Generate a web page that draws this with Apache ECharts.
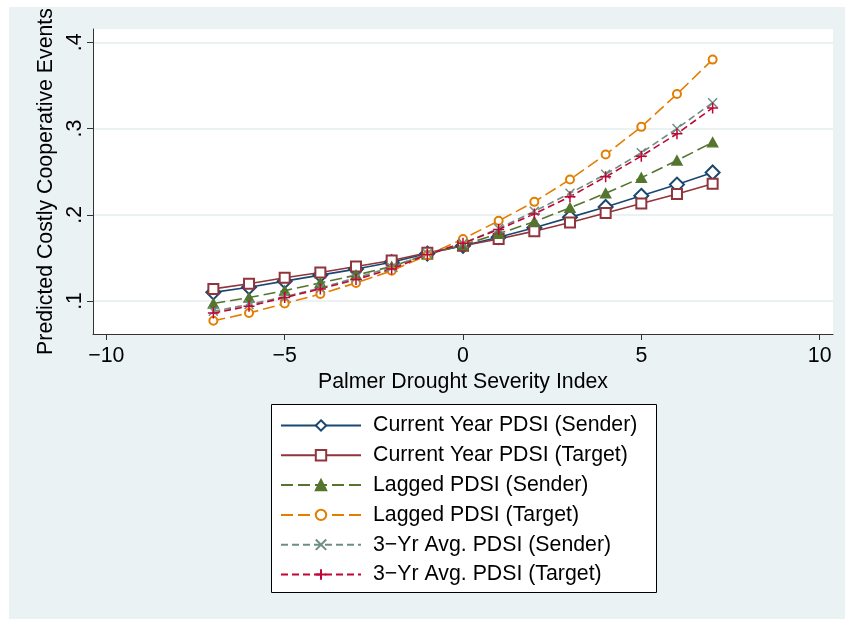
<!DOCTYPE html>
<html>
<head>
<meta charset="utf-8">
<script src="https://cdn.jsdelivr.net/npm/echarts@6/dist/echarts.min.js"></script>
<style>
  html, body { margin: 0; padding: 0; background: #ffffff; }
  #frame { position: absolute; left: 9px; top: 7px; width: 836px; height: 612px; background: #eaf2f3; }
  #chart { position: absolute; left: 0; top: 0; width: 845px; height: 619px; }
</style>
</head>
<body>
<div id="frame"></div>
<div id="chart"></div>
<script>
// Palmer Drought Severity Index values at which predictions are evaluated
const pdsi = [-7, -6, -5, -4, -3, -2, -1, 0, 1, 2, 3, 4, 5, 6, 7];

// Predicted costly cooperative events for each PDSI measure
const currentSender = [0.110, 0.116, 0.123, 0.130, 0.137, 0.145, 0.155, 0.164, 0.174, 0.185, 0.197, 0.209, 0.222, 0.235, 0.249];
const currentTarget = [0.114, 0.120, 0.127, 0.133, 0.140, 0.147, 0.156, 0.164, 0.172, 0.181, 0.191, 0.202, 0.213, 0.224, 0.236];
const laggedSender  = [0.097, 0.104, 0.112, 0.121, 0.130, 0.140, 0.154, 0.165, 0.178, 0.192, 0.208, 0.225, 0.243, 0.263, 0.284];
const laggedTarget  = [0.077, 0.086, 0.097, 0.108, 0.121, 0.135, 0.153, 0.172, 0.193, 0.215, 0.241, 0.270, 0.302, 0.340, 0.380];
const avgSender     = [0.088, 0.096, 0.105, 0.115, 0.127, 0.139, 0.155, 0.167, 0.184, 0.204, 0.225, 0.247, 0.272, 0.300, 0.330];
const avgTarget     = [0.086, 0.094, 0.104, 0.114, 0.125, 0.137, 0.154, 0.167, 0.183, 0.201, 0.221, 0.244, 0.268, 0.294, 0.324];

// Axis ticks
const xTicks = [-10, -5, 0, 5, 10];
const yTicks = [0.1, 0.2, 0.3, 0.4];

const seriesNames = [
  'Current Year PDSI (Sender)',
  'Current Year PDSI (Target)',
  'Lagged PDSI (Sender)',
  'Lagged PDSI (Target)',
  '3\u2212Yr Avg. PDSI (Sender)',
  '3\u2212Yr Avg. PDSI (Target)'
];

const FONT = '"Liberation Sans", Arial, sans-serif';
const FS = 21.3;
const X_MARK = 'path://M0,0L10,10M10,0L0,10';
const PLUS_MARK = 'path://M5,0L5,10M0,5L10,5';

function pairs(values) {
  return pdsi.map((x, i) => [x, values[i]]);
}

function makeSeries(name, values, color, symbol, size, dash, width) {
  return {
    name: name,
    type: 'line',
    data: pairs(values),
    symbol: symbol,
    symbolSize: size,
    showSymbol: true,
    animation: false,
    lineStyle: { color: color, width: width, type: dash },
    itemStyle: { color: color, borderColor: color, borderWidth: 1.5 },
    emphasis: { disabled: true }
  };
}

const chart = echarts.init(document.getElementById('chart'), null, { renderer: 'canvas' });

chart.setOption({
  backgroundColor: 'transparent',
  textStyle: { fontFamily: FONT },
  graphic: [{
    type: 'rect',
    z: 0,
    shape: { x: 271.5, y: 404.5, width: 385, height: 188 },
    style: { fill: '#ffffff', stroke: '#000000', lineWidth: 1 }
  }],
  grid: {
    left: 93, top: 29, width: 740, height: 305,
    show: true, backgroundColor: '#ffffff', borderWidth: 0
  },
  xAxis: {
    type: 'value',
    min: -10.375, max: 10.375,
    name: 'Palmer Drought Severity Index',
    nameLocation: 'middle',
    nameGap: 38,
    nameTextStyle: { fontSize: FS, color: '#000', fontFamily: FONT },
    axisLine: { show: true, onZero: false, lineStyle: { color: '#333', width: 1 } },
    axisTick: { show: true, length: 6, customValues: xTicks, lineStyle: { color: '#333' } },
    axisLabel: {
      customValues: xTicks,
      fontSize: FS, color: '#000', margin: 12, fontFamily: FONT,
      formatter: v => (v < 0 ? '\u2212' + Math.abs(v) : String(v))
    },
    splitLine: { show: false }
  },
  yAxis: {
    type: 'value',
    min: 0.0617, max: 0.4155,
    name: 'Predicted Costly Cooperative Events',
    nameLocation: 'middle',
    nameGap: 36,
    nameTextStyle: { fontSize: FS, color: '#000', fontFamily: FONT },
    axisLine: { show: true, onZero: false, lineStyle: { color: '#333', width: 1 } },
    axisTick: { show: true, length: 6, customValues: yTicks, lineStyle: { color: '#333' } },
    axisLabel: {
      customValues: yTicks,
      rotate: 90,
      fontSize: FS, color: '#000', margin: 7, fontFamily: FONT,
      formatter: v => v.toFixed(1).replace(/^0/, '')
    },
    splitLine: { show: true, customValues: yTicks, lineStyle: { color: '#eaf2f3', width: 2 } }
  },
  legend: {
    orient: 'vertical',
    left: 280, top: 415,
    itemWidth: 80, itemHeight: 13, itemGap: 8.8,
    padding: 0,
    textStyle: { fontSize: FS, color: '#000', fontFamily: FONT, lineHeight: 21, padding: [0, 0, 0, 7] },
    data: seriesNames,
    selectedMode: false
  },
  series: [
    makeSeries(seriesNames[0], currentSender, '#1a476f', 'emptyDiamond', [14, 14], 'solid', 1.6),
    makeSeries(seriesNames[1], currentTarget, '#90353b', 'emptyRect', 10, 'solid', 1.6),
    makeSeries(seriesNames[2], laggedSender, '#55752f', 'triangle', [10, 9], [12, 5], 1.6),
    makeSeries(seriesNames[3], laggedTarget, '#e37e00', 'emptyCircle', 8, [12, 5], 1.6),
    makeSeries(seriesNames[4], avgSender, '#6e8e84', X_MARK, 9, [7, 4], 1.6),
    makeSeries(seriesNames[5], avgTarget, '#c10534', PLUS_MARK, 11, [7, 4], 1.6)
  ]
});
</script>
</body>
</html>
